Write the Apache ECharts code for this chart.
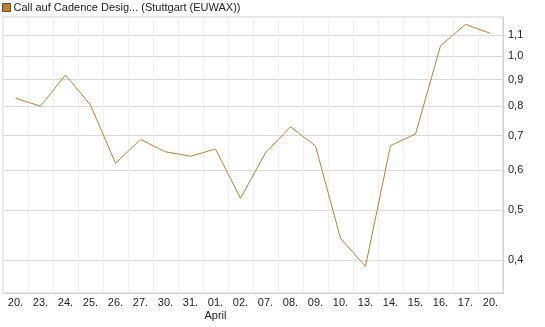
<!DOCTYPE html>
<html>
<head>
<meta charset="utf-8">
<script src="https://cdn.jsdelivr.net/npm/echarts@6/dist/echarts.min.js"></script>
<style>
  html, body { margin: 0; padding: 0; background: #fff; }
  #chart { width: 545px; height: 327px; }
</style>
</head>
<body>
<div id="chart"></div>
<script>
// dates of the trading days (March -> April)
var days = ['20.', '23.', '24.', '25.', '26.', '27.', '30.', '31.', '01.', '02.',
            '07.', '08.', '09.', '10.', '13.', '14.', '15.', '16.', '17.', '20.'];
// closing prices
var prices = [0.828, 0.799, 0.919, 0.803, 0.618, 0.688, 0.651, 0.638, 0.659, 0.528,
              0.648, 0.728, 0.668, 0.441, 0.389, 0.669, 0.705, 1.048, 1.154, 1.108];
// y ticks on the log scale
var yTicks = [0.4, 0.5, 0.6, 0.7, 0.8, 0.9, 1.0, 1.1];
var seriesName = 'Call auf Cadence Desig... (Stuttgart (EUWAX))';

var chart = echarts.init(document.getElementById('chart'));
chart.setOption({
  animation: false,
  textStyle: { fontFamily: 'Liberation Sans, Arial, sans-serif' },
  legend: {
    left: 0,
    top: 0,
    padding: [2, 0, 0, 2],
    itemWidth: 8,
    itemHeight: 8,
    itemGap: 5,
    icon: 'rect',
    textStyle: { fontSize: 11, color: '#222', padding: [0, 0, 0, -2] },
    data: [{ name: seriesName, itemStyle: { color: '#b5823a', borderColor: '#6b4a1c', borderWidth: 1 } }]
  },
  grid: {
    left: 3, right: 42, top: 17, bottom: 34,
    show: true, borderColor: '#d0d0d0', borderWidth: 1
  },
  xAxis: {
    type: 'category',
    data: days,
    boundaryGap: true,
    axisLine: { show: true, lineStyle: { color: '#d0d0d0' } },
    axisTick: { show: false },
    splitLine: { show: true, interval: 0, lineStyle: { color: '#eeeeee' } },
    axisLabel: {
      interval: 0,
      fontSize: 11,
      color: '#222',
      margin: 3,
      lineHeight: 13,
      formatter: function (v, i) { return i === 8 ? v + '\nApril' : v; }
    }
  },
  yAxis: {
    type: 'log',
    position: 'right',
    min: 0.345,
    max: 1.193,
    axisLine: { show: true, lineStyle: { color: '#d0d0d0' } },
    axisTick: { show: false, customValues: yTicks },
    splitLine: { show: true, lineStyle: { color: '#d8d8d8' } },
    axisLabel: {
      customValues: yTicks,
      fontSize: 11,
      color: '#222',
      margin: 5,
      formatter: function (v) { return v.toFixed(1).replace('.', ','); }
    }
  },
  series: [{
    name: seriesName,
    type: 'line',
    data: prices,
    symbol: 'none',
    lineStyle: { color: '#b5823a', width: 1 },
    itemStyle: { color: '#b5823a' }
  }]
});
</script>
</body>
</html>
